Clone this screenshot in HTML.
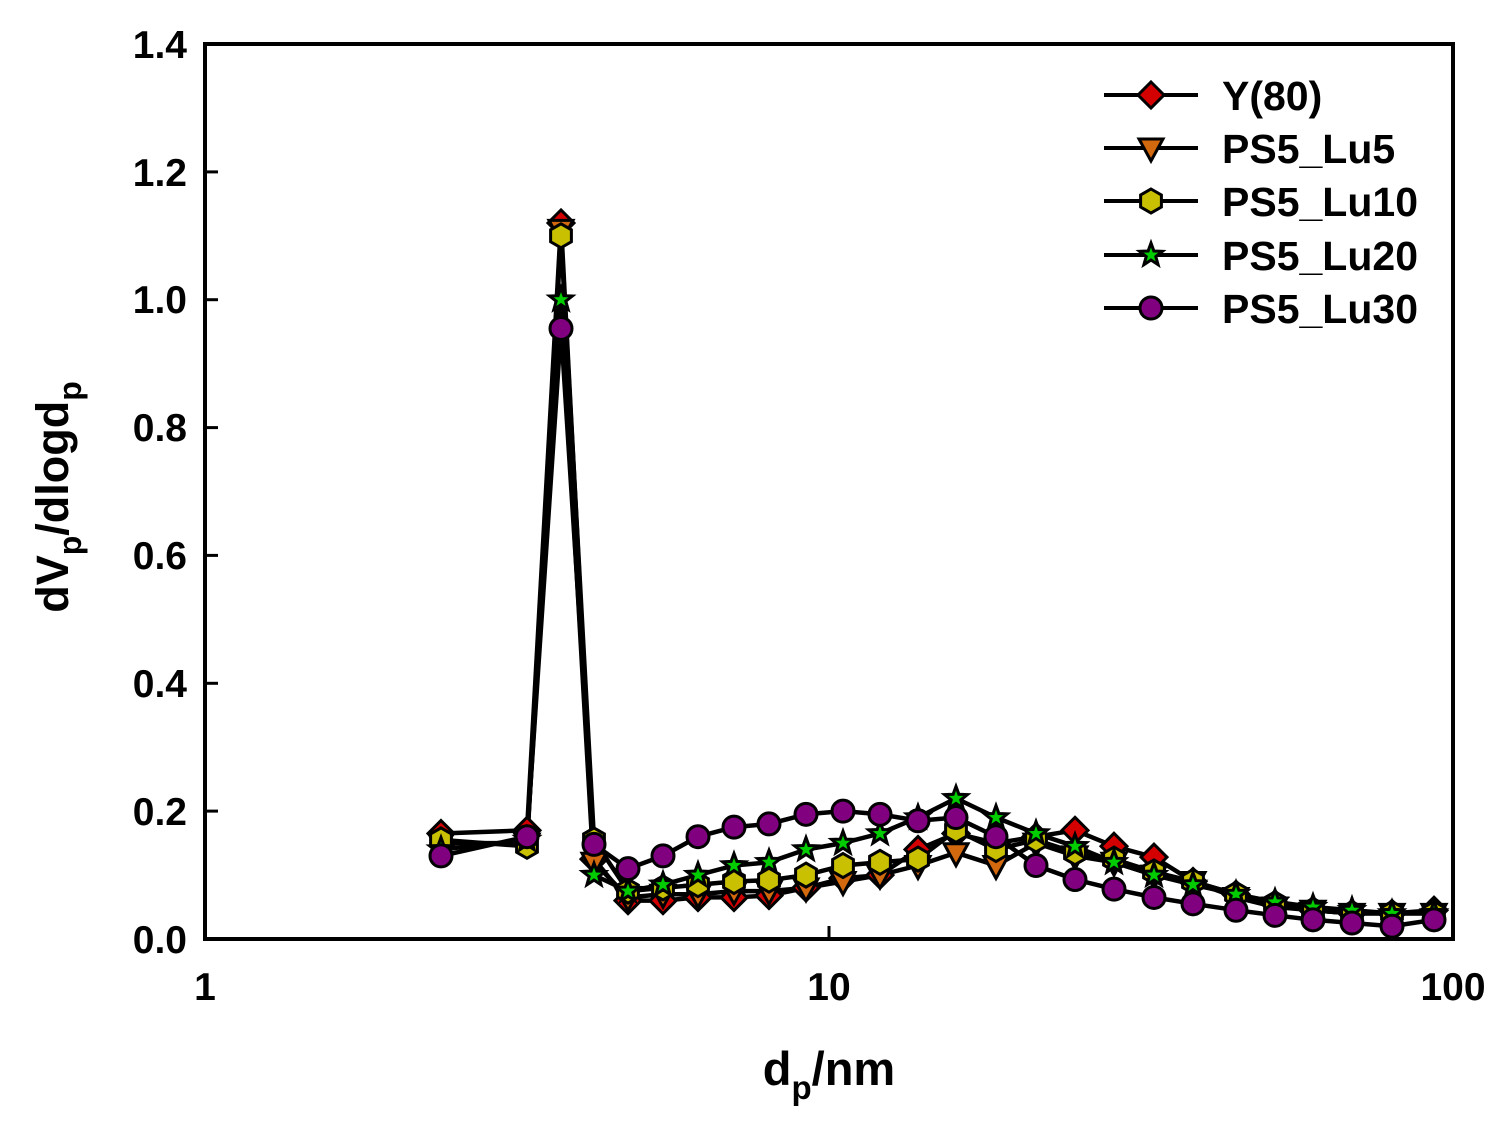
<!DOCTYPE html>
<html><head><meta charset="utf-8"><style>
html,body{margin:0;padding:0;background:#fff;}
svg{display:block;font-family:"Liberation Sans",Arial,sans-serif;font-weight:bold;}
</style></head><body>
<svg id="s" width="1505" height="1128" viewBox="0 0 1505 1128" xmlns="http://www.w3.org/2000/svg">
<rect width="1505" height="1128" fill="#fff"/>
<g id="data"></g>
<rect x="205" y="44" width="1248" height="895" fill="none" stroke="#000" stroke-width="4"/>
<g stroke="#000" stroke-width="3">
<line x1="205" y1="939" x2="218" y2="939"/>
<line x1="205" y1="811.1" x2="218" y2="811.1"/>
<line x1="205" y1="683.3" x2="218" y2="683.3"/>
<line x1="205" y1="555.4" x2="218" y2="555.4"/>
<line x1="205" y1="427.6" x2="218" y2="427.6"/>
<line x1="205" y1="299.7" x2="218" y2="299.7"/>
<line x1="205" y1="171.9" x2="218" y2="171.9"/>
<line x1="829" y1="939" x2="829" y2="926"/>
</g>
<g font-size="39" text-anchor="end" fill="#000">
<text x="187" y="953">0.0</text>
<text x="187" y="825">0.2</text>
<text x="187" y="697">0.4</text>
<text x="187" y="569">0.6</text>
<text x="187" y="441">0.8</text>
<text x="187" y="313">1.0</text>
<text x="187" y="186">1.2</text>
<text x="187" y="58">1.4</text>
</g>
<g font-size="39" text-anchor="middle" fill="#000">
<text x="205" y="1000">1</text>
<text x="829" y="1000">10</text>
<text x="1453" y="1000">100</text>
</g>
<text x="829" y="1085" font-size="47" text-anchor="middle">d<tspan font-size="33" dy="14">p</tspan><tspan dy="-14">/nm</tspan></text>
<text transform="translate(68,497) rotate(-90)" font-size="45" text-anchor="middle">dV<tspan font-size="32" dy="13">p</tspan><tspan dy="-13">/dlogd</tspan><tspan font-size="32" dy="13">p</tspan></text>
<g id="legend" font-size="41" fill="#000"></g>
</svg>
<script>
var X=[441,527,561,594,628,663,698,734,769,806,843,880,918,956,996,1036,1075,1114,1154,1193,1236,1275,1313,1352,1392,1434];
var S=[
{c:"#d40000",m:"d",v:[0.165,0.17,1.12,0.125,0.06,0.06,0.065,0.065,0.068,0.08,0.095,0.1,0.14,0.165,0.15,0.16,0.17,0.145,0.128,0.09,0.07,0.055,0.045,0.04,0.04,0.045],n:"Y(80)"},
{c:"#d2690e",m:"t",v:[0.15,0.15,1.11,0.12,0.065,0.07,0.07,0.075,0.075,0.08,0.09,0.1,0.115,0.135,0.115,0.15,0.13,0.12,0.1,0.09,0.065,0.05,0.045,0.04,0.04,0.04],n:"PS5_Lu5"},
{c:"#c8c000",m:"h",v:[0.155,0.145,1.1,0.155,0.075,0.08,0.085,0.09,0.092,0.1,0.115,0.12,0.125,0.17,0.14,0.155,0.135,0.125,0.105,0.09,0.07,0.055,0.045,0.04,0.04,0.04],n:"PS5_Lu10"},
{c:"#00cc00",m:"s",v:[0.14,0.155,1.0,0.1,0.075,0.085,0.1,0.115,0.12,0.14,0.15,0.165,0.19,0.22,0.19,0.165,0.145,0.12,0.1,0.085,0.07,0.058,0.05,0.045,0.04,0.04],n:"PS5_Lu20"},
{c:"#800080",m:"c",v:[0.13,0.16,0.955,0.148,0.11,0.13,0.16,0.175,0.18,0.195,0.2,0.195,0.185,0.19,0.16,0.115,0.093,0.078,0.065,0.055,0.045,0.037,0.03,0.025,0.02,0.03],n:"PS5_Lu30"}];
function Y(v){return 939-639.3*v;}
function mk(t,x,y,c){
 var a='fill="'+c+'" stroke="#000" stroke-width="3"';
 if(t=="d")return '<polygon points="'+x+','+(y-13)+' '+(x+13)+','+y+' '+x+','+(y+13)+' '+(x-13)+','+y+'" '+a+'/>';
 if(t=="t")return '<polygon points="'+(x-12)+','+(y-9)+' '+(x+12)+','+(y-9)+' '+x+','+(y+13)+'" '+a+'/>';
 if(t=="c")return '<circle cx="'+x+'" cy="'+y+'" r="11" '+a+'/>';
 var p=[];
 if(t=="h"){for(var i=0;i<6;i++){var an=Math.PI/3*i-Math.PI/2;p.push((x+12*Math.cos(an)).toFixed(1)+','+(y+12*Math.sin(an)).toFixed(1));}}
 else{for(var i=0;i<10;i++){var r=i%2?5:12,an=Math.PI/5*i-Math.PI/2;p.push((x+r*Math.cos(an)).toFixed(1)+','+(y+r*Math.sin(an)).toFixed(1));}}
 return '<polygon points="'+p.join(' ')+'" '+a+'/>';
}
var h='',lg='';
S.forEach(function(s){h+='<polyline fill="none" stroke="#000" stroke-width="4.5" stroke-linejoin="round" points="'+X.map(function(x,i){return x+','+Y(s.v[i]).toFixed(1)}).join(' ')+'"/>';});
S.forEach(function(s){X.forEach(function(x,i){h+=mk(s.m,x,Y(s.v[i]),s.c);});});
document.getElementById('data').innerHTML=h;
var ly=[95,148,201,255,308];
S.forEach(function(s,k){lg+='<line x1="1104" x2="1198" y1="'+ly[k]+'" y2="'+ly[k]+'" stroke="#000" stroke-width="4"/>'+mk(s.m,1151,ly[k],s.c)+'<text x="1222" y="'+(ly[k]+15)+'">'+s.n+'</text>';});
document.getElementById('legend').innerHTML=lg;
</script>
</body></html>
